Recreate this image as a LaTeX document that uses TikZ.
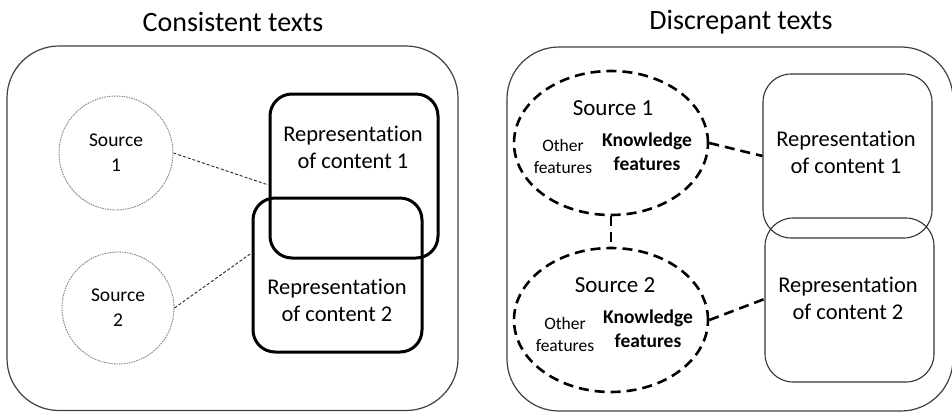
\documentclass[tikz,border=0pt]{standalone}
\usepackage{fontspec}
\setmainfont[Ligatures=NoCommon]{Carlito}
\usetikzlibrary{shapes.geometric,calc}
\begin{document}
\begin{tikzpicture}[x=1pt,y=-1pt,
  outerbox/.style={draw=black!75,line width=1.2pt,rounded corners=52pt},
  repthick/.style={draw=black,line width=3pt,rounded corners=22pt,minimum width=168pt,minimum height=164pt,inner sep=0pt},
  repthin/.style={draw=black!80,line width=1.1pt,rounded corners=28pt,minimum width=169pt,minimum height=164pt,inner sep=0pt},
  srcdot/.style={circle,draw=black!50,line width=0.9pt,dash pattern=on 1.5pt off 1pt,inner sep=0pt},
  srcell/.style={ellipse,draw=black,line width=2.6pt,dash pattern=on 10pt off 6pt,minimum width=194pt,minimum height=144pt,inner sep=0pt},
  thinlink/.style={draw=black!85,line width=0.9pt,dash pattern=on 3pt off 2pt},
  thicklink/.style={draw=black,line width=2.6pt,dash pattern=on 10pt off 6pt},
  reptext/.style={align=center,font=\fontsize{22.5pt}{27pt}\selectfont},
  title/.style={font=\fontsize{28pt}{32pt}\selectfont}
]
\useasboundingbox (0,0) rectangle (952,412);
\fill[white] (0,0) rectangle (952,412);
% titles
\node[title] (t1) at (233,22) {Consistent texts};
\node[title] (t2) at (741,22) {Discrepant texts};
% outer boxes
\draw[outerbox] (7,46) rectangle (458,410.5);
\draw[outerbox] (507,47) rectangle (953,411);
% left panel
\node[srcdot,minimum size=114pt,align=center,font=\fontsize{19.5pt}{25pt}\selectfont] (s1) at (116,153) {Source\\1};
\node[srcdot,minimum size=112pt,align=center,font=\fontsize{19.5pt}{25pt}\selectfont] (s2) at (118,308) {Source\\2};
\node[repthick] (r1l) at (354,176) {};
\node[repthick,minimum width=169pt,minimum height=154pt] (r2l) at (337.5,275) {};
\node[reptext] (r1lt) at (353,147) {Representation\\of content 1};
\node[reptext] (r2lt) at (337,300) {Representation\\of content 2};
\draw[thinlink] (s1.east) -- ($(r1l.west)+(0,9)$);
\draw[thinlink] (s2.east) -- ($(r2l.west)+(0,-22)$);
% right panel
\node[srcell] (e1) at (611,143) {};
\node[srcell] (e2) at (611,320) {};
\node[font=\fontsize{23pt}{27pt}\selectfont] (e1s) at (613,108) {Source 1};
\node[font=\fontsize{23pt}{27pt}\selectfont] (e2s) at (615,285) {Source 2};
\node[align=center,font=\fontsize{17.5pt}{22pt}\selectfont] (e1o) at (563,156) {Other\\features};
\node[align=center,font=\bfseries\fontsize{19.5pt}{24pt}\selectfont] (e1k) at (647,152) {Knowledge\\features};
\node[align=center,font=\fontsize{17.5pt}{22pt}\selectfont] (e2o) at (565,334) {Other\\features};
\node[align=center,font=\bfseries\fontsize{19.5pt}{24pt}\selectfont] (e2k) at (648,329) {Knowledge\\features};
\node[repthin] (r1r) at (847.5,156) {};
\node[repthin] (r2r) at (849.5,300) {};
\node[reptext] (r1rt) at (846,152) {Representation\\of content 1};
\node[reptext] (r2rt) at (848,298) {Representation\\of content 2};
\draw[thicklink] (e1.south) -- (e2.north);
\draw[thicklink] (e1.east) -- (r1r.west);
\draw[thicklink] (e2.east) -- ($(r2r.west)+(0,-1)$);
\end{tikzpicture}
\end{document}
